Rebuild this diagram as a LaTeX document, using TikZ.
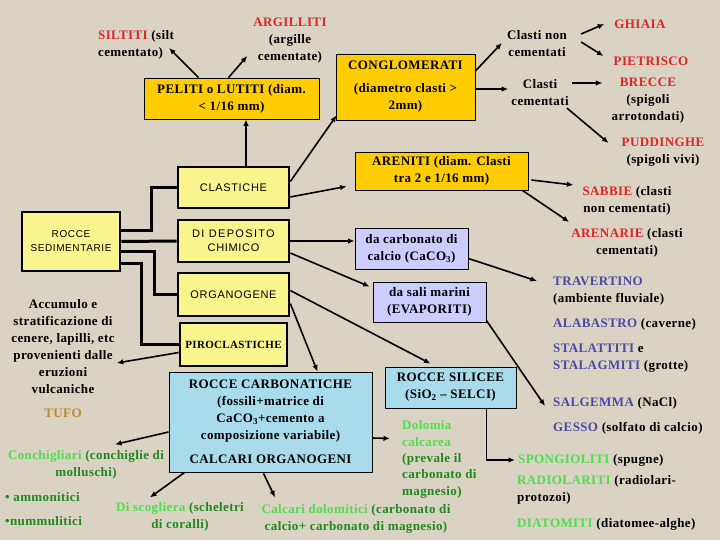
\documentclass[tikz,border=0pt]{standalone}
\usepackage{fontspec}
\setmainfont{Liberation Serif}[LetterSpace=3.0]
\newfontfamily\boxfont{Liberation Sans}[LetterSpace=6.0]
\usepackage{tikz}
\usetikzlibrary{arrows.meta, positioning, calc}
\usepackage{xcolor}
\definecolor{bgsand}{HTML}{DAD2C2}
\definecolor{sedyellow}{HTML}{F9F48E}
\definecolor{goldbox}{HTML}{FFCC00}
\definecolor{lavbox}{HTML}{CCCCFF}
\definecolor{icebox}{HTML}{A8DCEC}
\definecolor{redname}{HTML}{DD2626}
\definecolor{bluename}{HTML}{4A4AA6}
\definecolor{limename}{HTML}{4FDF4F}
\definecolor{darkgreen}{HTML}{1E8A1E}
\definecolor{tufobrown}{HTML}{B8893A}
\newcommand{\rn}[1]{\textcolor{redname}{#1}}
\newcommand{\bn}[1]{\textcolor{bluename}{#1}}
\newcommand{\gn}[1]{\textcolor{limename}{#1}}
\newcommand{\dg}[1]{\textcolor{darkgreen}{#1}}

\begin{document}
\begin{tikzpicture}[x=1pt, y=-1pt,
  box/.style={draw, line width=2.6pt, fill=sedyellow, minimum width=111pt, minimum height=42pt,
              inner sep=0pt, align=center, font=\boxfont\fontsize{11}{14}\selectfont},
  clast/.style={draw, line width=0.8pt, fill=goldbox, inner sep=0pt, align=center,
                font=\bfseries\fontsize{13}{17}\selectfont},
  chem/.style={clast, fill=lavbox},
  ice/.style={clast, fill=icebox},
  txt/.style={inner sep=0pt, align=center, font=\bfseries\fontsize{13}{17}\selectfont},
  link/.style={line width=3pt},
  arr/.style={line width=1.6pt, -{Latex[length=6.5pt,width=5.5pt]}}]
  \fill[bgsand] (0,0) rectangle (720,540);
  \useasboundingbox (0,0) rectangle (720,540);

  % main classes
  \node[box, minimum width=98pt, minimum height=59pt, font=\boxfont\fontsize{10}{14}\selectfont]
    (sedim) at (71,241.5) {ROCCE\\SEDIMENTARIE};
  \node[box, minimum height=41pt] (clastiche) at (233.5,187.5) {CLASTICHE};
  \node[box] (deposito) at (233.5,241) {\addfontfeature{LetterSpace=12.0}DI DEPOSITO\\CHIMICO};
  \node[box, minimum height=43pt] (organogene) at (233.5,294.5) {ORGANOGENE};
  \node[box, minimum width=107pt, minimum height=43pt, font=\bfseries\fontsize{11}{14}\selectfont]
    (piro) at (233.5,344.5) {PIROCLASTICHE};

  \draw[link] ($(sedim.east)+(0,-11)$) -- ++(30,0) |- (clastiche.west);
  \draw[link] (sedim.east) -- (deposito.west);
  \draw[link] ($(sedim.east)+(0,10)$) -- ++(33,0) |- (organogene.west);
  \draw[link] ($(sedim.east)+(0,22)$) -- ++(20,0) |- (piro.west);

  % clastiche
  \node[clast, minimum width=175pt, minimum height=41pt] (peliti) at (231.5,98.5)
    {PELITI o LUTITI (diam.\\< 1/16 mm)};
  \node[clast, minimum width=139pt, minimum height=66pt] (conglomerati) at (405.5,87)
    {CONGLOMERATI\\[6pt](diametro clasti >\\2mm)};
  \node[clast, minimum width=173pt, minimum height=38pt] (areniti) at (441.5,171)
    {ARENITI (diam. Clasti\\tra 2 e 1/16 mm)};

  \node[txt, align=left] (siltiti) at (136,45) {\rn{SILTITI} (silt\\cementato)};
  \node[txt] (argilliti) at (290,41) {\rn{ARGILLITI}\\(argille\\cementate)};
  \node[txt] (clastinon) at (537,44) {Clasti non\\cementati};
  \node[txt] (clastice) at (540,93) {Clasti\\cementati};
  \node[txt] (ghiaia) at (640,24) {\rn{GHIAIA}};
  \node[txt] (pietrisco) at (651,61) {\rn{PIETRISCO}};
  \node[txt] (brecce) at (648,101) {\rn{BRECCE}\\(spigoli\\arrotondati)};
  \node[txt] (puddinghe) at (663,152) {\rn{PUDDINGHE}\\(spigoli vivi)};
  \node[txt] (sabbie) at (627,201) {\rn{SABBIE} (clasti\\non cementati)};
  \node[txt] (arenarie) at (627,243) {\rn{ARENARIE} (clasti\\cementati)};

  \draw[arr] ($(peliti.north)+(-33,0)$) -- ($(siltiti.east)+(-5,3)$);
  \draw[arr] ($(peliti.north)+(-3,0)$) -- ($(argilliti.west)+(-6,15)$);
  \draw[arr] ([xshift=12.5pt]clastiche.north) -- ([xshift=14.5pt]peliti.south);
  \draw[arr] ($(clastiche.east)+(0,-6)$) -- ($(conglomerati.south west)+(1,-5)$);
  \draw[arr] ($(clastiche.east)+(0,9.5)$) -- ($(areniti.south west)+(-8,-4)$);
  \draw[arr] ($(conglomerati.east)+(0,-16)$) -- ($(clastinon.west)+(-5,-1)$);
  \draw[arr] ($(conglomerati.east)+(0,2)$) -- ($(clastice.west)+(-3,-4)$);
  \draw[arr] ($(clastinon.east)+(14,-10)$) -- ($(ghiaia.west)+(-10,0)$);
  \draw[arr] ($(clastinon.east)+(14,-2)$) -- ($(pietrisco.west)+(-10,-5)$);
  \draw[arr] ($(clastice.east)+(3,-10)$) -- ($(brecce.west)+(-9,-18)$);
  \draw[arr] ($(clastice.east)+(-2,15)$) -- ($(puddinghe.west)+(-13,-9)$);
  \draw[arr] ($(areniti.east)+(3,9)$) -- ($(sabbie.west)+(-9,-16)$);
  \draw[arr] ($(areniti.south east)+(-6,0)$) -- ($(arenarie.west)+(-2,-21)$);

  % di deposito chimico
  \node[chem, minimum width=113pt, minimum height=41pt] (carbonato) at (411.5,248.5)
    {da carbonato di\\calcio (CaCO\textsubscript{3})};
  \node[chem, minimum width=113pt, minimum height=40pt] (sali) at (429.5,302)
    {da sali marini\\(EVAPORITI)};
  \node[txt, anchor=west, align=left] (travertino) at (553,291)
    {\bn{TRAVERTINO}\\(ambiente fluviale)};
  \node[txt, anchor=west] (alabastro) at (553,324) {\bn{ALABASTRO} (caverne)};
  \node[txt, anchor=west, align=left] (stalattiti) at (553,358)
    {\bn{STALATTITI} e\\\bn{STALAGMITI} (grotte)};
  \node[txt, anchor=west] (salgemma) at (553,403) {\bn{SALGEMMA} (NaCl)};
  \node[txt, anchor=west] (gesso) at (553,428) {\bn{GESSO} (solfato di calcio)};

  \draw[arr] (deposito.east) -- (deposito.east -| carbonato.west);
  \draw[arr] ($(deposito.east)+(0,12)$) -- ($(sali.north west)+(-3,5)$);
  \draw[arr] ($(carbonato.east)+(0,10)$) -- ($(travertino.west)+(-16,-10)$);
  \draw[arr] ($(sali.south east)+(0,-2)$) -- ($(salgemma.west)+(-8,3)$);

  % organogene
  \node[ice, minimum width=203pt, minimum height=100pt] (carbonatiche) at (270.5,422)
    {ROCCE CARBONATICHE\\(fossili+matrice di\\CaCO\textsubscript{3}+cemento a\\composizione variabile)\\[7pt]CALCARI ORGANOGENI};
  \node[ice, minimum width=131pt, minimum height=41pt] (silicee) at (450.5,387.5)
    {ROCCE SILICEE\\(SiO\textsubscript{2} -- SELCI)};
  \node[txt, anchor=west, align=left, font=\bfseries\fontsize{13}{16.3}\selectfont] (dolomia) at (402,459.5)
    {\gn{Dolomia}\\\gn{calcarea}\\\dg{(prevale il}\\\dg{carbonato di}\\\dg{magnesio)}};
  \node[txt] (calcari) at (356,519)
    {\gn{Calcari dolomitici} \dg{(carbonato di}\\\dg{calcio+ carbonato di magnesio)}};
  \node[txt] (scogliera) at (180,517) {\gn{Di scogliera} \dg{(scheletri}\\\dg{di coralli)}};
  \node[txt] (conchigliari) at (86,465) {\gn{Conchigliari} \dg{(conchiglie di}\\\dg{molluschi)}};
  \node[txt, anchor=west] (ammonitici) at (5,497) {\dg{• ammonitici}};
  \node[txt, anchor=west] (nummulitici) at (5,521) {\dg{•nummulitici}};
  \node[txt, anchor=west] (spongioliti) at (518,460) {\gn{SPONGIOLITI} (spugne)};
  \node[txt, anchor=west, align=left] (radiolariti) at (517,490) {\gn{RADIOLARITI} (radiolari-\\protozoi)};
  \node[txt, anchor=west] (diatomiti) at (517,524) {\gn{DIATOMITI} (diatomee-alghe)};

  \draw[arr] ($(organogene.east)+(0,-4)$) -- ($(silicee.north)+(-20,-3)$);
  \draw[arr] ($(organogene.east)+(0,9)$) -- ($(carbonatiche.north)+(47,0)$);
  \draw[arr] ($(silicee.south)+(36,0)$) |- ($(spongioliti.west)+(-3,0)$);
  \draw[arr] ($(carbonatiche.east)+(0,16)$) -- ($(dolomia.west)+(-12,-21)$);
  \draw[arr] ($(carbonatiche.west)+(0,10)$) -- ($(conchigliari.north)+(29,-6)$);
  \draw[arr] ($(carbonatiche.south west)+(16,0)$) -- ($(scogliera.north)+(-30,-5)$);
  \draw[arr] ($(carbonatiche.south)+(-7,1)$) -- ($(calcari.north)+(-81,-7)$);

  % piroclastiche
  \node[txt] (accumulo) at (63,347)
    {Accumulo e\\stratificazione di\\cenere, lapilli, etc\\provenienti dalle\\eruzioni\\vulcaniche};
  \node[txt, text=tufobrown] (tufo) at (63,413) {TUFO};
  \draw[arr] ($(piro.west)+(0,8)$) -- ($(accumulo.east)+(2,16)$);
\end{tikzpicture}
\end{document}
